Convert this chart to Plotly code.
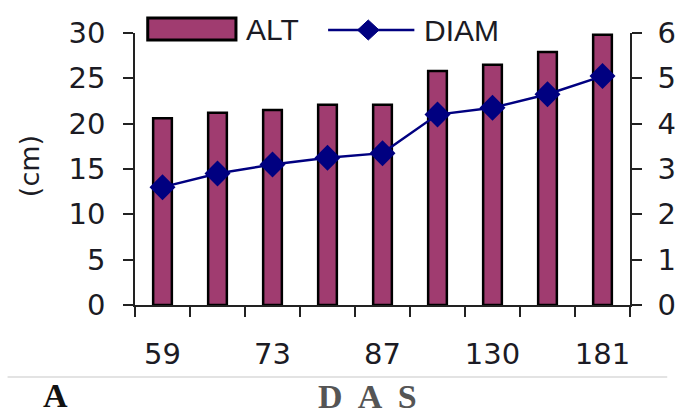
import plotly.graph_objects as go

# Days after sowing (DAS); only every other label is printed on the axis
categories = ["59", "66", "73", "80", "87", "101", "130", "150", "181"]
tick_labels = ["59", "", "73", "", "87", "", "130", "", "181"]
alt_cm = [20.6, 21.2, 21.5, 22.1, 22.1, 25.8, 26.5, 27.9, 29.8]
diam_mm = [2.6, 2.9, 3.1, 3.25, 3.35, 4.2, 4.35, 4.65, 5.05]

BAR_COLOR = "#A03C70"
LINE_COLOR = "#000080"
TEXT_COLOR = "#1b1b24"
AXIS_COLOR = "#222222"

W, H = 688, 417
L, R, T, B = 135, 640, 33, 305


def px(x):
    return (x - L) / (R - L)


def py(y):
    return (B - y) / (B - T)


fig = go.Figure()
fig.add_trace(go.Bar(
    x=categories, y=alt_cm, name="ALT", width=0.34,
    marker=dict(color=BAR_COLOR, line=dict(color="black", width=2.5)),
    showlegend=False,
))
fig.add_trace(go.Scatter(
    x=categories, y=diam_mm, name="DIAM", yaxis="y2", mode="lines+markers",
    line=dict(color=LINE_COLOR, width=2.5),
    marker=dict(symbol="diamond", size=20, color=LINE_COLOR),
    showlegend=False,
))

tick_font = dict(family="DejaVu Sans, Verdana, sans-serif", size=29, color=TEXT_COLOR)
n = len(categories)
boundaries = [i - 0.5 for i in range(n + 1)]

fig.update_layout(
    width=W, height=H,
    margin=dict(l=L, r=W - R, t=T, b=H - B),
    paper_bgcolor="white", plot_bgcolor="white",
    xaxis=dict(
        type="category", tickmode="array", tickvals=categories, ticktext=tick_labels,
        tickson="boundaries", ticks="outside", ticklen=10, tickwidth=1.5, tickcolor=AXIS_COLOR,
        showline=True, linecolor=AXIS_COLOR, linewidth=1.5, showgrid=False, tickangle=0,
        tickfont=tick_font, ticklabelstandoff=22, range=[-0.5, n - 0.5],
    ),
    # inner half of the crossing x ticks
    xaxis3=dict(
        overlaying="x", anchor="y", type="linear", range=[-0.5, n - 0.5],
        tickmode="array", tickvals=boundaries, ticks="inside", ticklen=7, tickwidth=1.5,
        tickcolor=AXIS_COLOR, showticklabels=False, showline=False, showgrid=False, zeroline=False,
    ),
    yaxis=dict(
        range=[0, 30], dtick=5, ticks="outside", ticklen=10, tickwidth=1.5, tickcolor=AXIS_COLOR,
        showline=True, linecolor=AXIS_COLOR, linewidth=1.5, showgrid=False, zeroline=False,
        tickfont=tick_font, ticklabelstandoff=12,
    ),
    yaxis2=dict(
        overlaying="y", side="right", range=[0, 6], dtick=1, ticks="outside", ticklen=10,
        tickwidth=1.5, tickcolor=AXIS_COLOR, showline=True, linecolor=AXIS_COLOR, linewidth=1.5,
        showgrid=False, zeroline=False, tickfont=tick_font, ticklabelstandoff=10,
    ),
    # inner halves of the crossing y ticks
    yaxis3=dict(
        overlaying="y", side="left", range=[0, 30], dtick=5, ticks="inside", ticklen=8,
        tickwidth=1.5, tickcolor=AXIS_COLOR, showticklabels=False, showline=False,
        showgrid=False, zeroline=False,
    ),
    yaxis4=dict(
        overlaying="y", side="right", range=[0, 6], dtick=1, ticks="inside", ticklen=8,
        tickwidth=1.5, tickcolor=AXIS_COLOR, showticklabels=False, showline=False,
        showgrid=False, zeroline=False,
    ),
)

# hand-drawn legend row above the plot
shapes = [
    dict(type="rect", xref="paper", yref="paper", x0=px(148), x1=px(238), y0=py(40), y1=py(18),
         fillcolor=BAR_COLOR, line=dict(color="black", width=3)),
    dict(type="line", xref="paper", yref="paper", x0=px(332), x1=px(420), y0=py(30), y1=py(30),
         line=dict(color=LINE_COLOR, width=2.5)),
    dict(type="path", xref="paper", yref="paper",
         path=f"M {px(362)},{py(30)} L {px(373)},{py(20)} L {px(384)},{py(30)} L {px(373)},{py(40)} Z",
         fillcolor=LINE_COLOR, line=dict(color=LINE_COLOR, width=1)),
    # separator rule under the chart
    dict(type="line", xref="paper", yref="paper", x0=px(5), x1=px(678), y0=py(377), y1=py(377),
         line=dict(color="#c8c8c8", width=1.2)),
]
fig.update_layout(shapes=shapes)

legend_font = dict(family="Liberation Sans, Arial, sans-serif", size=30, color=TEXT_COLOR)
serif_bold = "Liberation Serif, Times New Roman, serif"
annotations = [
    dict(text="ALT", x=px(246), y=py(29), xref="paper", yref="paper", xanchor="left",
         yanchor="middle", showarrow=False, font=legend_font),
    dict(text="DIAM", x=px(428), y=py(30), xref="paper", yref="paper", xanchor="left",
         yanchor="middle", showarrow=False, font=legend_font),
    dict(text="(cm)", x=px(27), y=py(166), xref="paper", yref="paper", textangle=-90,
         xanchor="center", yanchor="middle", showarrow=False,
         font=dict(family="DejaVu Sans, Verdana, sans-serif", size=27, color=TEXT_COLOR)),
    dict(text="<b>A</b>", x=px(54), y=py(395), xref="paper", yref="paper", xanchor="center",
         yanchor="middle", showarrow=False, borderpad=0,
         font=dict(family=serif_bold, size=34, color="#111111")),
    dict(text="<b>D\u00a0\u2009A\u00a0\u2009S</b>", x=px(372), y=py(396), xref="paper", yref="paper",
         xanchor="center", yanchor="middle", showarrow=False, borderpad=0,
         font=dict(family=serif_bold, size=34, color="#555555")),
]
fig.update_layout(annotations=annotations)

fig.write_html("out.html")
